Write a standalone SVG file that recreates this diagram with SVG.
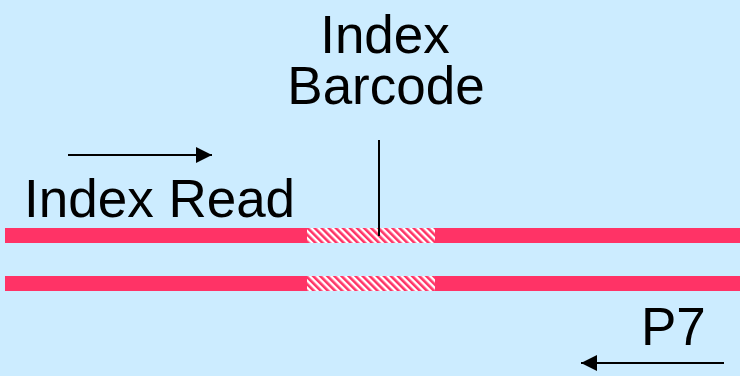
<svg xmlns="http://www.w3.org/2000/svg" width="740" height="376" viewBox="0 0 740 376">
  <defs>
    <style>
      .lbl { font-family: "Liberation Sans", Arial, sans-serif; font-size: 53px; fill: #000; }
      .strand { fill: #FF3366; }
      .wire { stroke: #000; stroke-width: 2; fill: none; }
    </style>
    <pattern id="hatch" width="5" height="5" patternUnits="userSpaceOnUse" patternTransform="rotate(-45)">
      <rect width="5" height="5" fill="#FFFFFF"/>
      <rect width="2.6" height="5" fill="#FF3366"/>
    </pattern>
    <marker id="head" viewBox="0 0 10 10" refX="10" refY="5" markerWidth="16" markerHeight="16" markerUnits="userSpaceOnUse" orient="auto">
      <path d="M0,0 L10,5 L0,10 z" fill="#000"/>
    </marker>
  </defs>

  <rect width="740" height="376" fill="#CCECFF"/>

  <!-- DNA strands with index barcode segment -->
  <g id="strand-top">
    <rect class="strand" x="5" y="228" width="735" height="15"/>
    <rect x="307" y="228" width="128" height="15" fill="url(#hatch)"/>
  </g>
  <g id="strand-bottom">
    <rect class="strand" x="5" y="276" width="735" height="15"/>
    <rect x="307" y="276" width="128" height="15" fill="url(#hatch)"/>
  </g>

  <g id="label-barcode">
    <text class="lbl" x="385" y="53" text-anchor="middle">Index</text>
    <text class="lbl" x="386" y="104" text-anchor="middle">Barcode</text>
  </g>
  <g id="label-read">
    <text class="lbl" x="24" y="217">Index Read</text>
  </g>
  <g id="label-p7">
    <text class="lbl" x="641" y="345">P7</text>
  </g>

  <!-- connectors -->
  <g id="connectors">
    <line class="wire" x1="379" y1="140" x2="379" y2="236"/>
    <line class="wire" x1="68" y1="155" x2="212" y2="155" marker-end="url(#head)"/>
    <line class="wire" x1="724" y1="363" x2="581" y2="363" marker-end="url(#head)"/>
  </g>
</svg>
